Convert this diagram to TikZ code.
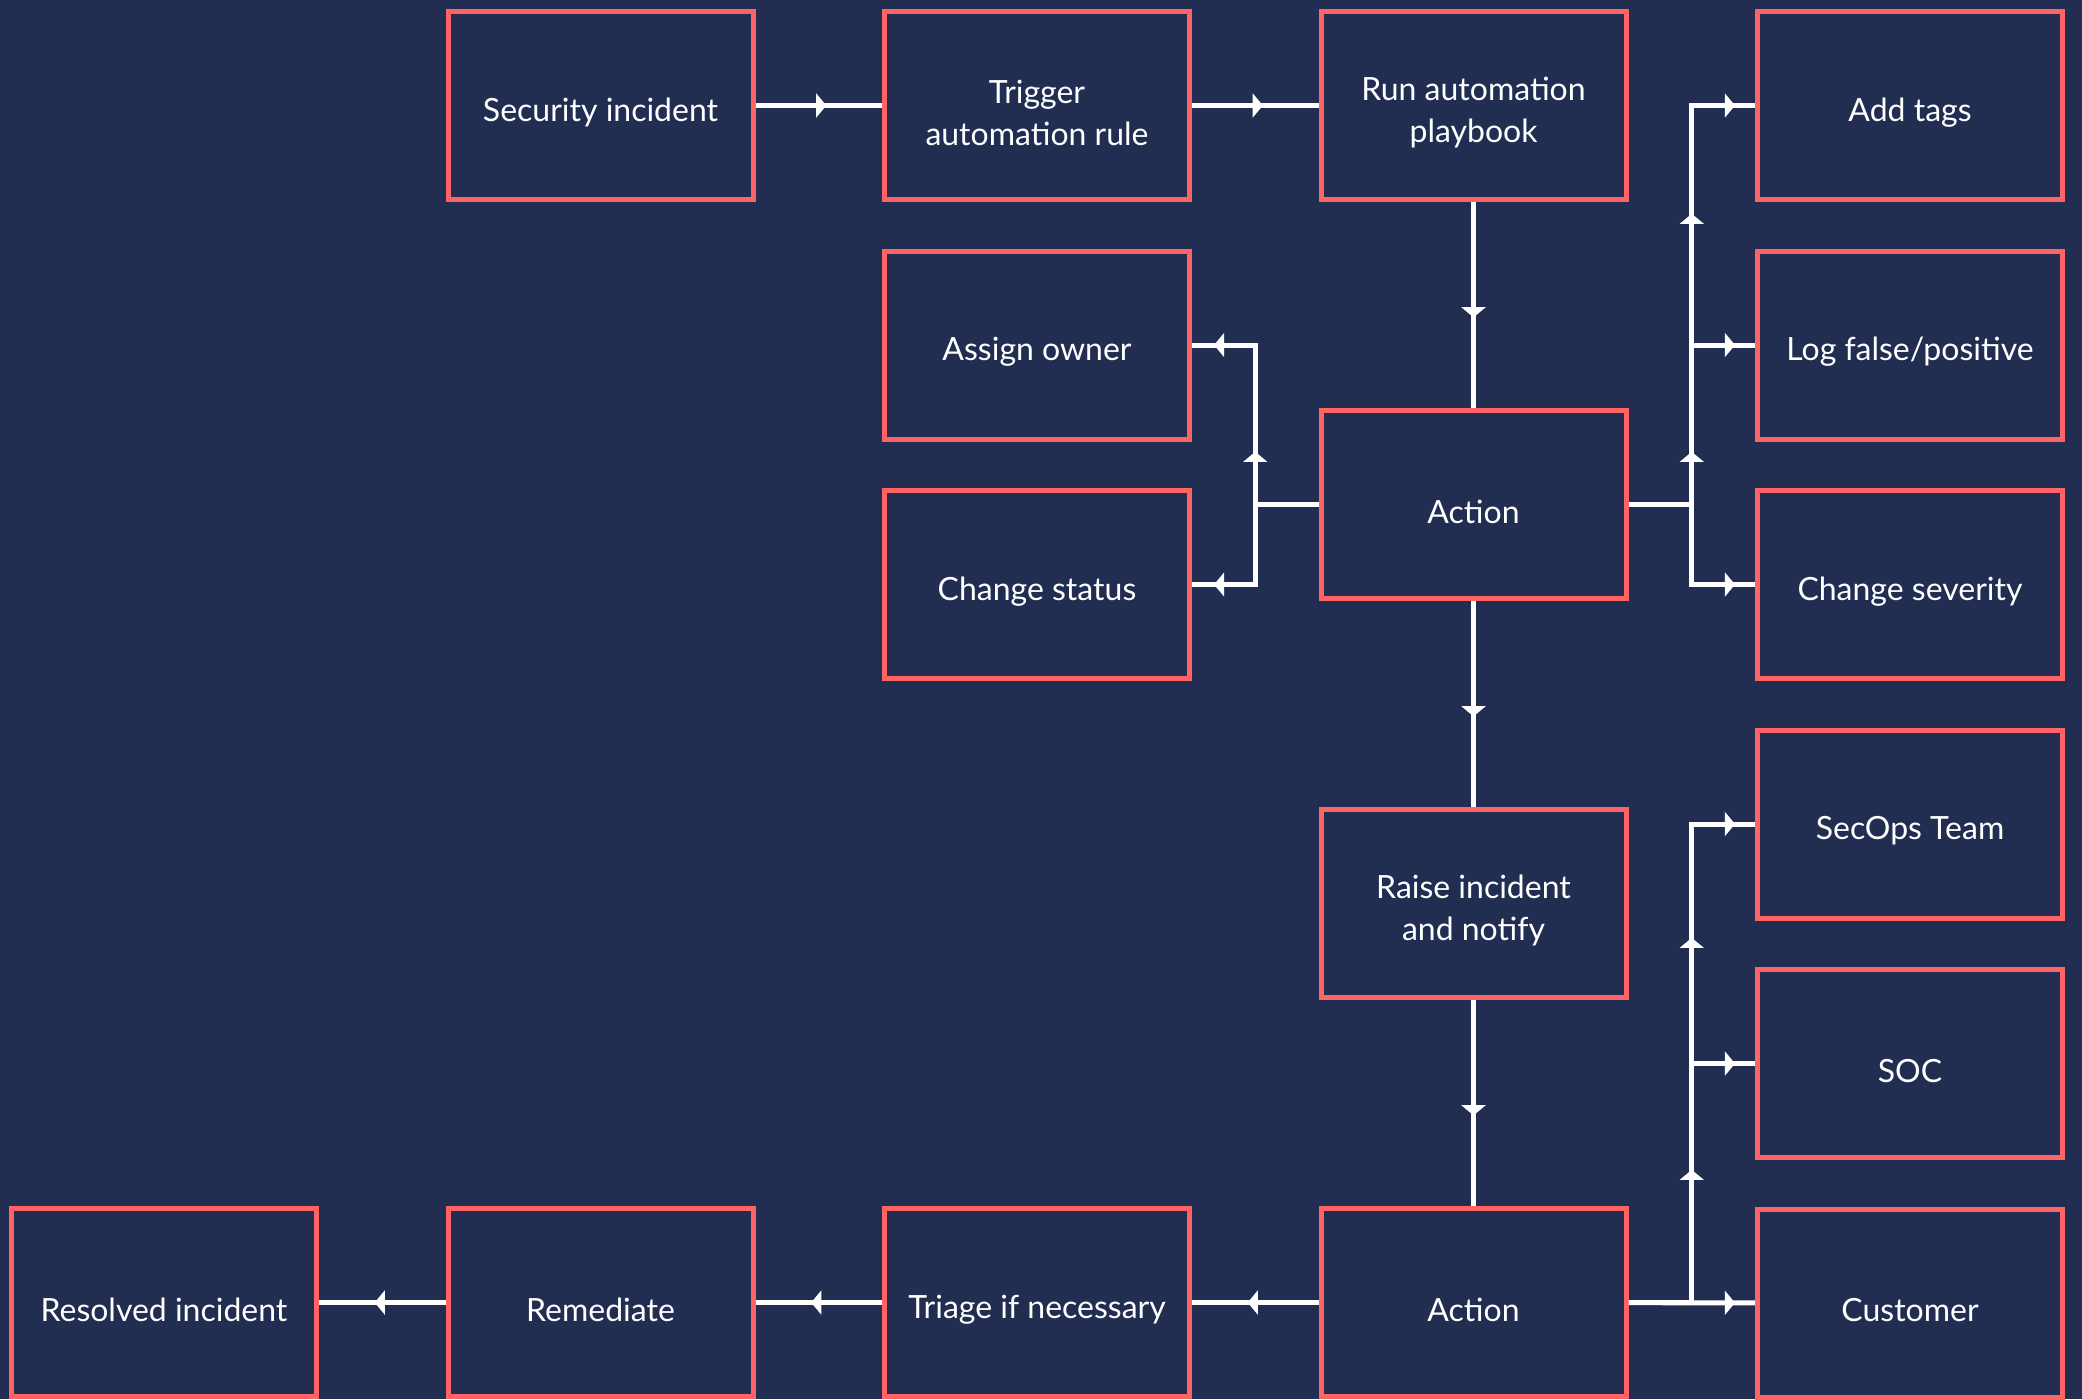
\documentclass[tikz,border=0pt]{standalone}
\usepackage{fontspec}
\setmainfont{Lato}
\usepackage{tikz}
\usetikzlibrary{positioning,arrows.meta,decorations.markings}
\definecolor{SecNavy}{HTML}{212E52}
\definecolor{SecRed}{HTML}{FF6363}

\begin{document}
\begin{tikzpicture}[node distance=4.65mm and 12.65mm,
    tipat/.style={postaction={decorate,decoration={markings,
      mark=at position #1 with {\arrow{Triangle[width=6.8pt,length=2.9pt]}}}}}]
  \tikzstyle{sbox}=[draw=SecRed,fill=SecNavy,line width=0.5mm,
    minimum width=30.5mm,minimum height=18.8mm,align=center,
    text=white,font=\fontsize{9.1}{12}\selectfont,text height=10.6pt]
  \tikzstyle{tworow}=[text height=22.8pt]
  \tikzstyle{wire}=[draw=white,line width=0.5mm]
  \useasboundingbox (0,0) rectangle (20.82,-13.99);
  \fill[SecNavy] (0,0) rectangle (20.82,-13.99);
  % top row and right column
  \node[sbox] (inc) at (6.005,-1.055) {Security incident};
  \node[sbox,tworow,right=of inc] (rule) {Trigger\\automation rule};
  \node[sbox,tworow,right=of rule] (play) {Run automation\\playbook};
  \node[sbox,right=of play] (tags) {Add tags};
  \node[sbox,below=of tags] (fp) {Log false/positive};
  \node[sbox,below=of fp] (sev) {Change severity};
  \node[sbox,below=of sev] (team) {SecOps Team};
  \node[sbox,below=of team] (soc) {SOC};
  \node[sbox,below=of soc] (cust) {Customer};
  \node[sbox,below=of rule] (own) {Assign owner};
  \node[sbox,below=of own] (stat) {Change status};
  % middle column
  \node[sbox,below=20.6mm of play] (act) {Action};
  \node[sbox,tworow,below=20.6mm of act] (raise) {Raise incident\\and notify};
  \node[sbox,below=20.6mm of raise] (act2) {Action};
  % bottom row
  \node[sbox,left=of act2] (tri) {Triage if necessary};
  \node[sbox,left=of tri] (rem) {Remediate};
  \node[sbox,left=of rem] (res) {Resolved incident};
  \coordinate[left=6.325mm of act.west] (lb);
  \coordinate[right=6.325mm of act.east] (rb);
  \coordinate[right=6.325mm of act2.east] (rb2);
  \draw[wire,tipat=0.56] (inc) -- (rule);
  \draw[wire,tipat=0.56] (rule) -- (play);
  \draw[wire,tipat=0.56] (play) -- (act);
  \draw[wire,tipat=1.16cm,tipat=-2.2mm] (act.west) -- (lb) |- (own.east);
  \draw[wire,tipat=-2.2mm] (act.west) -- (lb) |- (stat.east);
  \draw[wire,tipat=1.16cm,tipat=-2mm] (act.east) -- (rb) |- (fp.west);
  \draw[wire,tipat=3.54cm,tipat=-2mm] (act.east) -- (rb) |- (tags.west);
  \draw[wire,tipat=-2mm] (act.east) -- (rb) |- (sev.west);
  \draw[wire,tipat=0.56] (act) -- (raise);
  \draw[wire,tipat=0.56] (raise) -- (act2);
  \draw[wire,tipat=-2mm] (act2) -- (cust);
  \draw[wire,tipat=1.96cm,tipat=-2mm] (act2.east) -- (rb2) |- (soc.west);
  \draw[wire,tipat=4.28cm,tipat=-2mm] (act2.east) -- (rb2) |- (team.west);
  \draw[wire,tipat=0.56] (act2) -- (tri);
  \draw[wire,tipat=0.56] (tri) -- (rem);
  \draw[wire,tipat=0.56] (rem) -- (res);
\end{tikzpicture}
\end{document}
